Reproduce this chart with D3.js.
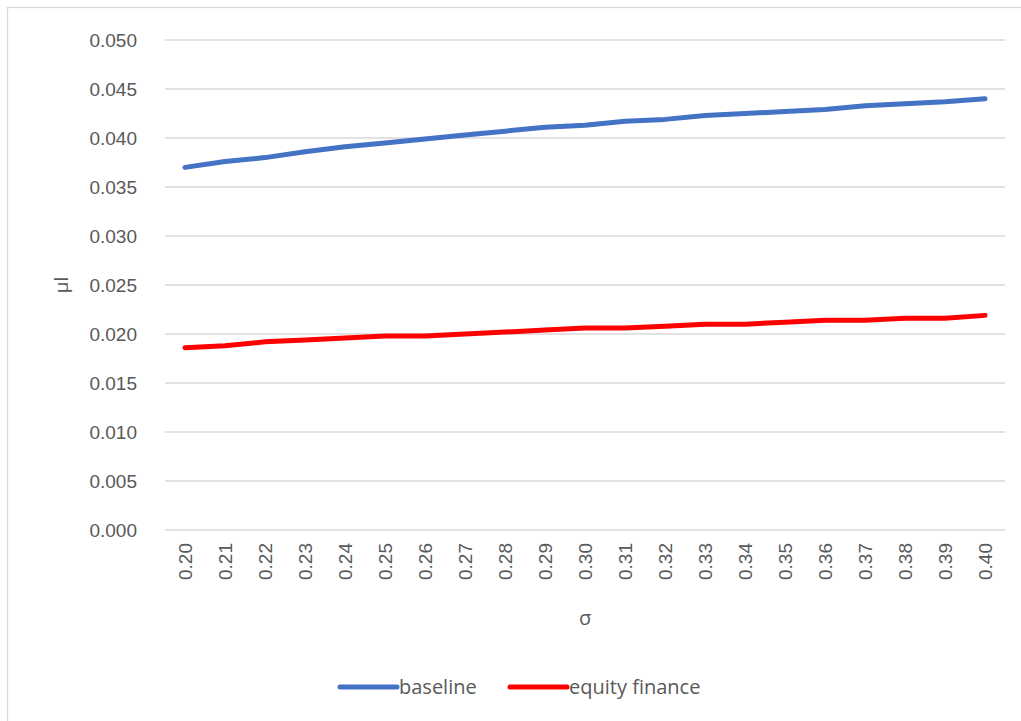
<!DOCTYPE html>
<html>
<head>
<meta charset="utf-8">
<script src="https://cdn.jsdelivr.net/npm/d3@7"></script>
<style>
  body { margin: 0; background: #fff; }
  svg { font-family: "Open Sans", "Liberation Sans", sans-serif; }
  .grid line { stroke: #d9d9d9; stroke-width: 1.3; }
  .axis text { fill: #595959; font-size: 19px; }
</style>
</head>
<body>
<svg width="1021" height="721"></svg>
<script>
// sigma values on the x axis
let sigmas = ['0.20','0.21','0.22','0.23','0.24','0.25','0.26','0.27','0.28','0.29','0.30',
              '0.31','0.32','0.33','0.34','0.35','0.36','0.37','0.38','0.39','0.40'];

// baseline series
let baseline = [0.0370, 0.0376, 0.0380, 0.0386, 0.0391, 0.0395, 0.0399, 0.0403, 0.0407, 0.0411, 0.0413,
                0.0417, 0.0419, 0.0423, 0.0425, 0.0427, 0.0429, 0.0433, 0.0435, 0.0437, 0.0440];

// equity finance series
let equityFinance = [0.0186, 0.0188, 0.0192, 0.0194, 0.0196, 0.0198, 0.0198, 0.0200, 0.0202, 0.0204, 0.0206,
                     0.0206, 0.0208, 0.0210, 0.0210, 0.0212, 0.0214, 0.0214, 0.0216, 0.0216, 0.0219];

let yTicks = [0, 0.005, 0.010, 0.015, 0.020, 0.025, 0.030, 0.035, 0.040, 0.045, 0.050];

let seriesNames = ['baseline', 'equity finance'];
let seriesColors = ['#4472c4', '#ff0000'];

let svg = d3.select('svg');

// outer frame
svg.append('rect')
  .attr('x', 7.5).attr('y', 7.5)
  .attr('width', 1040).attr('height', 740)
  .attr('fill', 'none')
  .attr('stroke', '#d9d9d9')
  .attr('stroke-width', 1.3);

let margin = {top: 40, right: 16, bottom: 191, left: 165},
  width = +svg.attr('width') - margin.left - margin.right,
  height = +svg.attr('height') - margin.top - margin.bottom;

let g = svg.append('g')
  .attr('transform', `translate(${margin.left}, ${margin.top})`);

let xScale = d3.scaleBand().domain(sigmas).range([0, width]);
let yScale = d3.scaleLinear().domain([0, 0.05]).range([height, 0]);

// gridlines
g.append('g')
  .attr('class', 'grid')
  .selectAll('line')
  .data(yTicks)
  .enter().append('line')
  .attr('x1', 0).attr('x2', width)
  .attr('y1', d => yScale(d)).attr('y2', d => yScale(d));

// y axis
let yAxis = g.append('g')
  .attr('class', 'axis axis--y')
  .call(d3.axisLeft(yScale).tickValues(yTicks).tickFormat(d3.format('.3f')).tickSize(0).tickPadding(28));
yAxis.select('.domain').remove();

// x axis
let xAxis = g.append('g')
  .attr('class', 'axis axis--x')
  .attr('transform', `translate(0,${height})`)
  .call(d3.axisBottom(xScale).tickSize(0));
xAxis.select('.domain').remove();
xAxis.selectAll('text')
  .attr('transform', 'rotate(-90)')
  .attr('text-anchor', 'end')
  .attr('dy', '0.35em')
  .attr('x', -13)
  .attr('y', 0);

// axis titles
svg.append('text')
  .attr('transform', 'translate(68,285) rotate(-90)')
  .attr('text-anchor', 'middle')
  .attr('fill', '#595959')
  .attr('font-size', 19)
  .text('μl');

svg.append('text')
  .attr('x', margin.left + width / 2)
  .attr('y', 625)
  .attr('text-anchor', 'middle')
  .attr('fill', '#595959')
  .attr('font-size', 20)
  .text('σ');

// lines
let line = d3.line()
  .x((d, i) => xScale(sigmas[i]) + xScale.bandwidth() / 2)
  .y(d => yScale(d));

[baseline, equityFinance].forEach((s, i) => {
  g.append('path')
    .datum(s)
    .attr('fill', 'none')
    .attr('stroke', seriesColors[i])
    .attr('stroke-width', 5)
    .attr('stroke-linecap', 'round')
    .attr('stroke-linejoin', 'round')
    .attr('d', line);
});

// legend
let legendX = [340, 510];
let legend = svg.append('g').selectAll('g')
  .data(seriesNames)
  .enter().append('g')
  .attr('transform', (d, i) => `translate(${legendX[i]},687)`);
legend.append('line')
  .attr('x1', 0).attr('x2', 57)
  .attr('stroke', (d, i) => seriesColors[i])
  .attr('stroke-width', 5)
  .attr('stroke-linecap', 'round');
legend.append('text')
  .attr('x', 59)
  .attr('dy', '0.35em')
  .attr('fill', '#595959')
  .attr('font-size', 20)
  .text(d => d);
</script>
</body>
</html>
